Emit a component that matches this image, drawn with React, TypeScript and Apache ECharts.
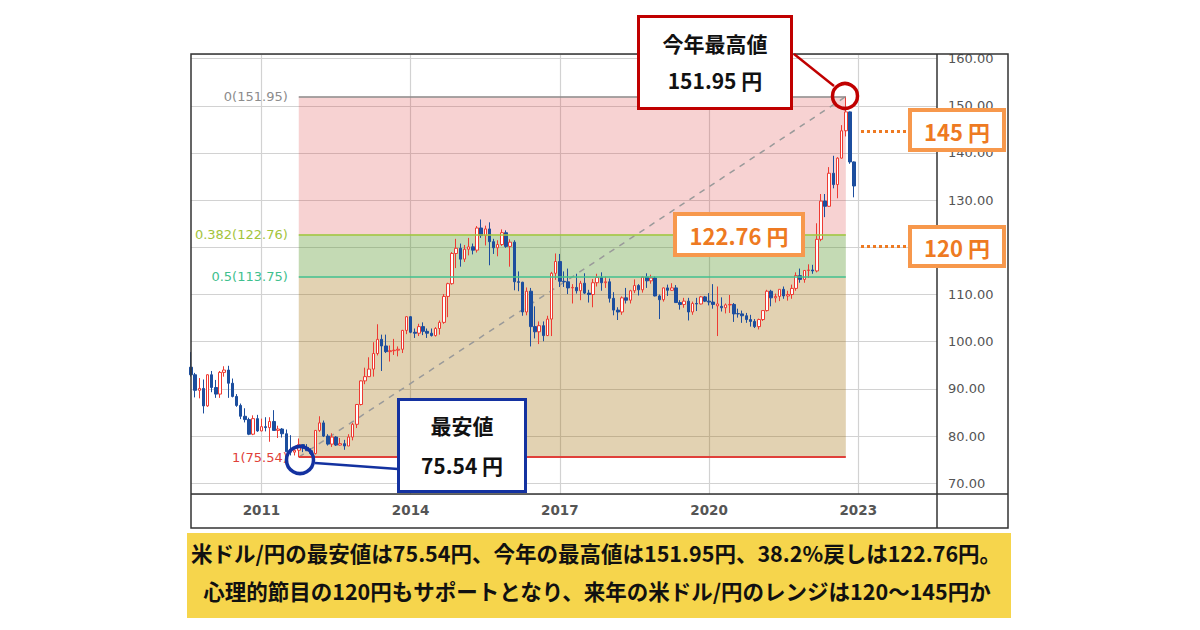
import React, { useEffect, useRef } from "react";
import * as echarts from "echarts";

// Monthly USD/JPY candles: [open, high, low, close]
const y2009 = [[94.6,97.8,92.6,93.0],[93.0,93.4,88.2,89.7],[89.7,92.3,88.0,90.1],[90.1,92.0,84.8,86.4],[86.4,93.1,86.2,93.0]];
const y2010 = [[93.0,93.8,89.3,90.3],[90.3,91.9,88.1,88.9],[88.9,93.8,88.1,93.5],[93.5,94.8,92.6,94.0],[94.0,94.9,88.1,91.2],[91.2,92.2,88.2,88.4],[88.4,88.9,86.2,86.5],[86.5,86.9,83.6,84.2],[84.2,85.9,82.9,83.5],[83.5,83.9,80.2,80.4],[80.4,84.4,80.2,83.7],[83.7,84.5,80.9,81.1]];
const y2011 = [[81.1,83.7,81.0,82.0],[82.0,84.0,81.0,81.8],[81.8,84.0,78.8,83.1],[83.1,85.5,81.2,81.2],[81.2,82.2,79.6,81.5],[81.5,81.7,79.7,80.5],[80.5,81.4,76.7,76.7],[76.7,80.2,75.9,76.6],[76.6,77.9,75.9,77.0],[77.0,79.5,75.54,78.2],[78.2,78.3,76.6,77.6],[77.6,78.3,76.9,76.9]];
const y2012 = [[76.9,77.4,76.0,76.3],[76.3,81.2,76.1,81.2],[81.2,84.2,80.9,82.8],[82.8,83.3,79.8,80.0],[80.0,80.4,78.0,78.3],[78.3,80.6,77.7,79.8],[79.8,80.0,77.9,78.1],[78.1,79.6,78.0,78.4],[78.4,79.2,77.1,77.9],[77.9,80.4,77.9,79.8],[79.8,82.8,79.1,82.5],[82.5,86.8,81.7,86.7]];
const y2013 = [[86.7,91.8,86.5,91.7],[91.7,94.5,91.0,92.6],[92.6,96.7,92.6,94.2],[94.2,99.9,92.6,97.5],[97.5,103.7,97.1,100.5],[100.5,101.5,93.8,99.1],[99.1,101.5,97.6,97.9],[97.9,99.2,95.8,98.1],[98.1,100.6,97.2,98.2],[98.2,99.0,96.9,98.4],[98.4,102.5,97.6,102.4],[102.4,105.4,101.6,105.3]];
const y2014 = [[105.3,105.4,101.8,102.0],[102.0,102.8,100.8,101.8],[101.8,103.8,101.2,103.2],[103.2,104.1,101.4,102.2],[102.2,102.8,100.8,101.8],[101.8,102.8,101.1,101.3],[101.3,103.1,101.1,102.8],[102.8,104.5,101.5,104.1],[104.1,110.1,103.8,109.6],[109.6,112.5,105.2,112.3],[112.3,119.0,112.1,118.7],[118.7,121.8,115.6,119.8]];
const y2015 = [[119.8,120.8,115.9,117.5],[117.5,120.5,116.9,119.6],[119.6,122.0,118.3,120.1],[120.1,120.8,118.5,119.4],[119.4,124.5,118.9,124.1],[124.1,125.9,122.0,122.5],[122.5,124.6,120.4,123.9],[123.9,125.3,116.2,121.2],[121.2,121.8,118.6,119.9],[119.9,121.5,118.1,120.6],[120.6,123.8,120.3,123.1],[123.1,123.6,119.9,120.2]];
const y2016 = [[120.2,121.7,115.9,121.1],[121.1,121.5,110.9,112.7],[112.7,114.9,110.7,112.6],[112.6,112.7,105.5,106.3],[106.3,111.5,105.6,110.7],[110.7,111.4,99.0,103.2],[103.2,107.5,100.7,102.1],[102.1,104.3,99.5,103.4],[103.4,104.3,100.1,101.3],[101.3,105.5,101.2,104.8],[104.8,114.8,101.2,114.5],[114.5,118.7,113.1,117.0]];
const y2017 = [[117.0,118.6,111.6,112.8],[112.8,114.9,111.6,112.7],[112.7,115.5,110.1,111.4],[111.4,112.2,108.1,111.5],[111.5,114.4,110.2,110.8],[110.8,112.9,108.8,112.4],[112.4,114.5,110.1,110.3],[110.3,111.0,108.3,110.0],[110.0,113.3,107.3,112.5],[112.5,114.4,111.7,113.6],[113.6,114.7,110.8,112.5],[112.5,113.8,111.4,112.7]];
const y2018 = [[112.7,113.4,108.3,109.2],[109.2,110.5,105.6,106.7],[106.7,107.3,104.6,106.3],[106.3,109.6,105.7,109.3],[109.3,111.4,108.1,108.8],[108.8,111.0,108.1,110.8],[110.8,113.2,110.3,111.9],[111.9,112.2,109.8,111.0],[111.0,113.8,110.4,113.7],[113.7,114.5,111.4,112.9],[112.9,114.2,112.3,113.5],[113.5,113.8,109.6,109.7]];
const y2019 = [[109.7,110.0,104.8,108.9],[108.9,111.5,108.5,111.4],[111.4,112.1,109.7,110.9],[110.9,112.4,110.8,111.4],[111.4,112.0,108.3,108.3],[108.3,108.8,106.8,107.9],[107.9,109.3,107.2,108.6],[108.6,109.3,104.5,106.3],[106.3,108.5,105.7,108.1],[108.1,109.3,106.5,108.0],[108.0,109.7,107.9,109.5],[109.5,109.7,108.4,108.6]];
const y2020 = [[108.6,110.3,107.7,108.4],[108.4,112.2,107.0,107.9],[107.6,111.7,101.2,108.0],[107.5,109.4,106.4,107.2],[107.2,108.1,106.0,107.8],[107.8,109.9,106.1,107.9],[107.9,108.2,104.2,105.9],[105.95,107.0,105.1,105.9],[105.9,106.6,104.0,105.5],[105.5,106.1,104.0,104.7],[104.7,105.7,103.2,104.3],[104.3,104.8,102.9,103.2]];
const y2021 = [[103.2,104.9,102.6,104.7],[104.7,106.7,104.4,106.6],[106.6,111.0,106.4,110.7],[110.7,111.0,107.5,109.3],[109.3,110.2,108.3,109.6],[109.6,111.1,108.6,111.1],[111.1,111.7,109.1,109.7],[109.7,110.8,108.7,110.0],[110.0,112.1,109.1,111.3],[111.3,114.7,110.8,114.0],[114.0,115.5,112.5,113.2],[113.2,115.2,112.5,115.1]];
const y2022 = [[115.1,116.4,113.5,115.2],[115.2,116.3,114.4,115.0],[115.0,125.1,114.7,121.7],[121.7,131.3,121.3,129.8],[129.8,131.3,126.4,128.7],[128.7,137.0,128.6,135.7],[135.7,139.4,132.5,133.3],[133.3,139.1,130.4,138.9],[138.9,145.9,138.8,144.7],[144.7,151.95,143.5,148.7],[148.7,148.8,137.7,138.1],[138.1,138.2,130.6,133.0]];

const yearBlocks = [y2009, y2010, y2011, y2012, y2013, y2014, y2015, y2016, y2017, y2018, y2019, y2020, y2021, y2022];

// Month categories Aug 2009 .. Aug 2024
const categories: string[] = [];
for (let i = 0; i < 181; i++) {
  const m = 7 + i;
  const yr = 2009 + Math.floor(m / 12);
  const mo = (m % 12) + 1;
  categories.push(`${yr}-${String(mo).padStart(2, "0")}`);
}
const yearTicks = ["2011-01", "2014-01", "2017-01", "2020-01", "2023-01"];
// y labels that are hidden behind the callout box in the reference
const hiddenYLabels = [120];

const fibStart = "2011-10";
const fibEnd = "2022-10";
const lowValue = 75.54;
const highValue = 151.95;
const fibLevels = [
  { ratio: "0", value: 151.95, color: "#8c8c8c", width: 1.5 },
  { ratio: "0.382", value: 122.76, color: "#a3c43c", width: 1.5 },
  { ratio: "0.5", value: 113.75, color: "#3fc08e", width: 1.5 },
  { ratio: "1", value: 75.54, color: "#e0403a", width: 2 },
];
const fibZones = [
  { from: 151.95, to: 122.76, color: "rgba(220,60,60,0.23)" },
  { from: 122.76, to: 113.75, color: "rgba(86,149,41,0.35)" },
  { from: 113.75, to: 75.54, color: "rgba(158,105,0,0.3)" },
];

const axisFont = "DejaVu Sans";
const jpFont = '"Noto Sans CJK JP"';

export default function App() {
  const ref = useRef<HTMLDivElement>(null);
  useEffect(() => {
    if (!ref.current) return;
    const chart = echarts.init(ref.current, undefined, { renderer: "svg" });
    const ohlc = yearBlocks.flat();
    const candleData = ohlc.map((d) => [d[0], d[3], d[2], d[1]]);
    const isYear = (_i: number, v: string) => yearTicks.includes(v);
    const orange = "#ee7a22";
    const orangeBorder = "#f7984c";
    const red = "#c00000";
    const blue = "#1432a0";
    const z = 100;
    const txt = (text: string, x: number, y: number, size: number, fill: string) => ({
      type: "text",
      z: z + 1,
      style: {
        text,
        x,
        y,
        fill,
        font: `bold ${size}px ${jpFont}`,
        textAlign: "center",
        textVerticalAlign: "middle",
      },
    });
    const box = (x: number, y: number, w: number, h: number, stroke: string, lw: number) => ({
      type: "rect",
      z,
      shape: { x, y, width: w, height: h },
      style: { fill: "#ffffff", stroke, lineWidth: lw },
    });
    const line = (x1: number, y1: number, x2: number, y2: number, stroke: string, lw: number, dash?: number[]) => ({
      type: "line",
      z,
      shape: { x1, y1, x2, y2 },
      style: { stroke, lineWidth: lw, lineDash: dash },
    });
    const ring = (cx: number, cy: number, r: number, stroke: string) => ({
      type: "circle",
      z,
      shape: { cx, cy, r },
      style: { fill: "none", stroke, lineWidth: 3.5 },
    });

    chart.setOption({
      animation: false,
      backgroundColor: "#ffffff",
      grid: { left: 191, top: 54, width: 746, height: 440 },
      xAxis: {
        type: "category",
        data: categories,
        boundaryGap: false,
        axisLine: { show: false },
        axisTick: { show: false },
        axisLabel: {
          interval: isYear,
          formatter: (v: string) => v.slice(0, 4),
          color: "#555555",
          fontSize: 13.5,
          fontWeight: "bold",
          fontFamily: axisFont,
          margin: 9,
        },
        splitLine: { show: true, interval: isYear, lineStyle: { color: "#d2d2d2", width: 1.2 } },
      },
      yAxis: {
        type: "value",
        position: "right",
        min: 67.73,
        max: 160.97,
        splitNumber: 9,
        axisLine: { show: false },
        axisTick: { show: false },
        axisLabel: {
          formatter: (v: number) => {
            const r = Math.round(v / 10) * 10;
            if (Math.abs(v - r) > 1e-6 || hiddenYLabels.includes(r)) return "";
            return v.toFixed(2);
          },
          color: "#555555",
          fontSize: 13,
          fontFamily: axisFont,
          margin: 11,
        },
        splitLine: { show: true, lineStyle: { color: "#d2d2d2", width: 1.2 } },
      },
      series: [
        {
          type: "line",
          z: 2,
          symbol: "none",
          data: [
            [fibStart, lowValue],
            [fibEnd, highValue],
          ],
          lineStyle: { color: "#9a9a9a", width: 1.5, type: [6, 6] },
          markArea: {
            silent: true,
            label: { show: false },
            data: fibZones.map((zn) => [
              { coord: [fibStart, zn.from], itemStyle: { color: zn.color } },
              { coord: [fibEnd, zn.to] },
            ]),
          },
          markLine: {
            silent: true,
            symbol: ["none", "none"],
            animation: false,
            data: fibLevels.map((f) => [
              {
                coord: [fibStart, f.value],
                lineStyle: { color: f.color, width: f.width, type: "solid" },
                label: {
                  show: true,
                  position: "start",
                  distance: 11,
                  formatter: `${f.ratio}(${f.value.toFixed(2)})`,
                  color: f.color,
                  fontSize: 13,
                  fontFamily: axisFont,
                },
              },
              { coord: [fibEnd, f.value] },
            ]),
          },
        },
        {
          type: "candlestick",
          z: 3,
          barWidth: 3,
          data: candleData,
          itemStyle: {
            color: "#ffffff",
            borderColor: "#ee3a32",
            color0: "#1c4e9e",
            borderColor0: "#1c4e9e",
            borderWidth: 1,
          },
        },
      ],
      graphic: [
        // frame
        { type: "rect", z, shape: { x: 191, y: 54, width: 817, height: 474 }, style: { fill: "none", stroke: "#333333", lineWidth: 1.5 } },
        line(937, 54, 937, 528, "#333333", 1.5),
        line(191, 494, 1008, 494, "#333333", 1.5),
        // high callout
        line(794, 54, 834, 86, red, 2.5),
        ring(845, 96, 12.5, red),
        box(638.5, 16.5, 153, 92, red, 3),
        txt("今年最高値", 715, 43, 21, "#111111"),
        txt("151.95 円", 715, 80, 21, "#111111"),
        // 145 / 120 boxes
        line(861, 131.5, 906, 131.5, orange, 3, [3, 3]),
        box(910, 110, 94, 40, orangeBorder, 4),
        txt("145 円", 957, 130.5, 22, orange),
        line(861, 246.5, 906, 246.5, orange, 3, [3, 3]),
        box(910, 227, 94, 39, orangeBorder, 4),
        txt("120 円", 957, 246.5, 22, orange),
        // 122.76 box
        box(675, 214, 128, 41, orangeBorder, 4),
        txt("122.76 円", 739, 234.5, 22, orange),
        // low callout
        line(315, 463, 398, 469, blue, 2.5),
        ring(300, 460, 13.5, blue),
        box(398.5, 399.5, 127, 92, blue, 3),
        txt("最安値", 462, 425, 21, "#111111"),
        txt("75.54 円", 462, 465, 21, "#111111"),
        // bottom caption
        { type: "rect", z, shape: { x: 187, y: 533, width: 824, height: 85 }, style: { fill: "#f6d54c" } },
        txt("米ドル/円の最安値は75.54円、今年の最高値は151.95円、38.2%戻しは122.76円。", 596, 552, 21.5, "#111111"),
        txt("心理的節目の120円もサポートとなり、来年の米ドル/円のレンジは120～145円か", 597, 590, 21.5, "#111111"),
      ],
    });
    return () => chart.dispose();
  }, []);
  return <div ref={ref} style={{ position: "fixed", left: 0, top: 0, width: 1200, height: 630 }} />;
}
